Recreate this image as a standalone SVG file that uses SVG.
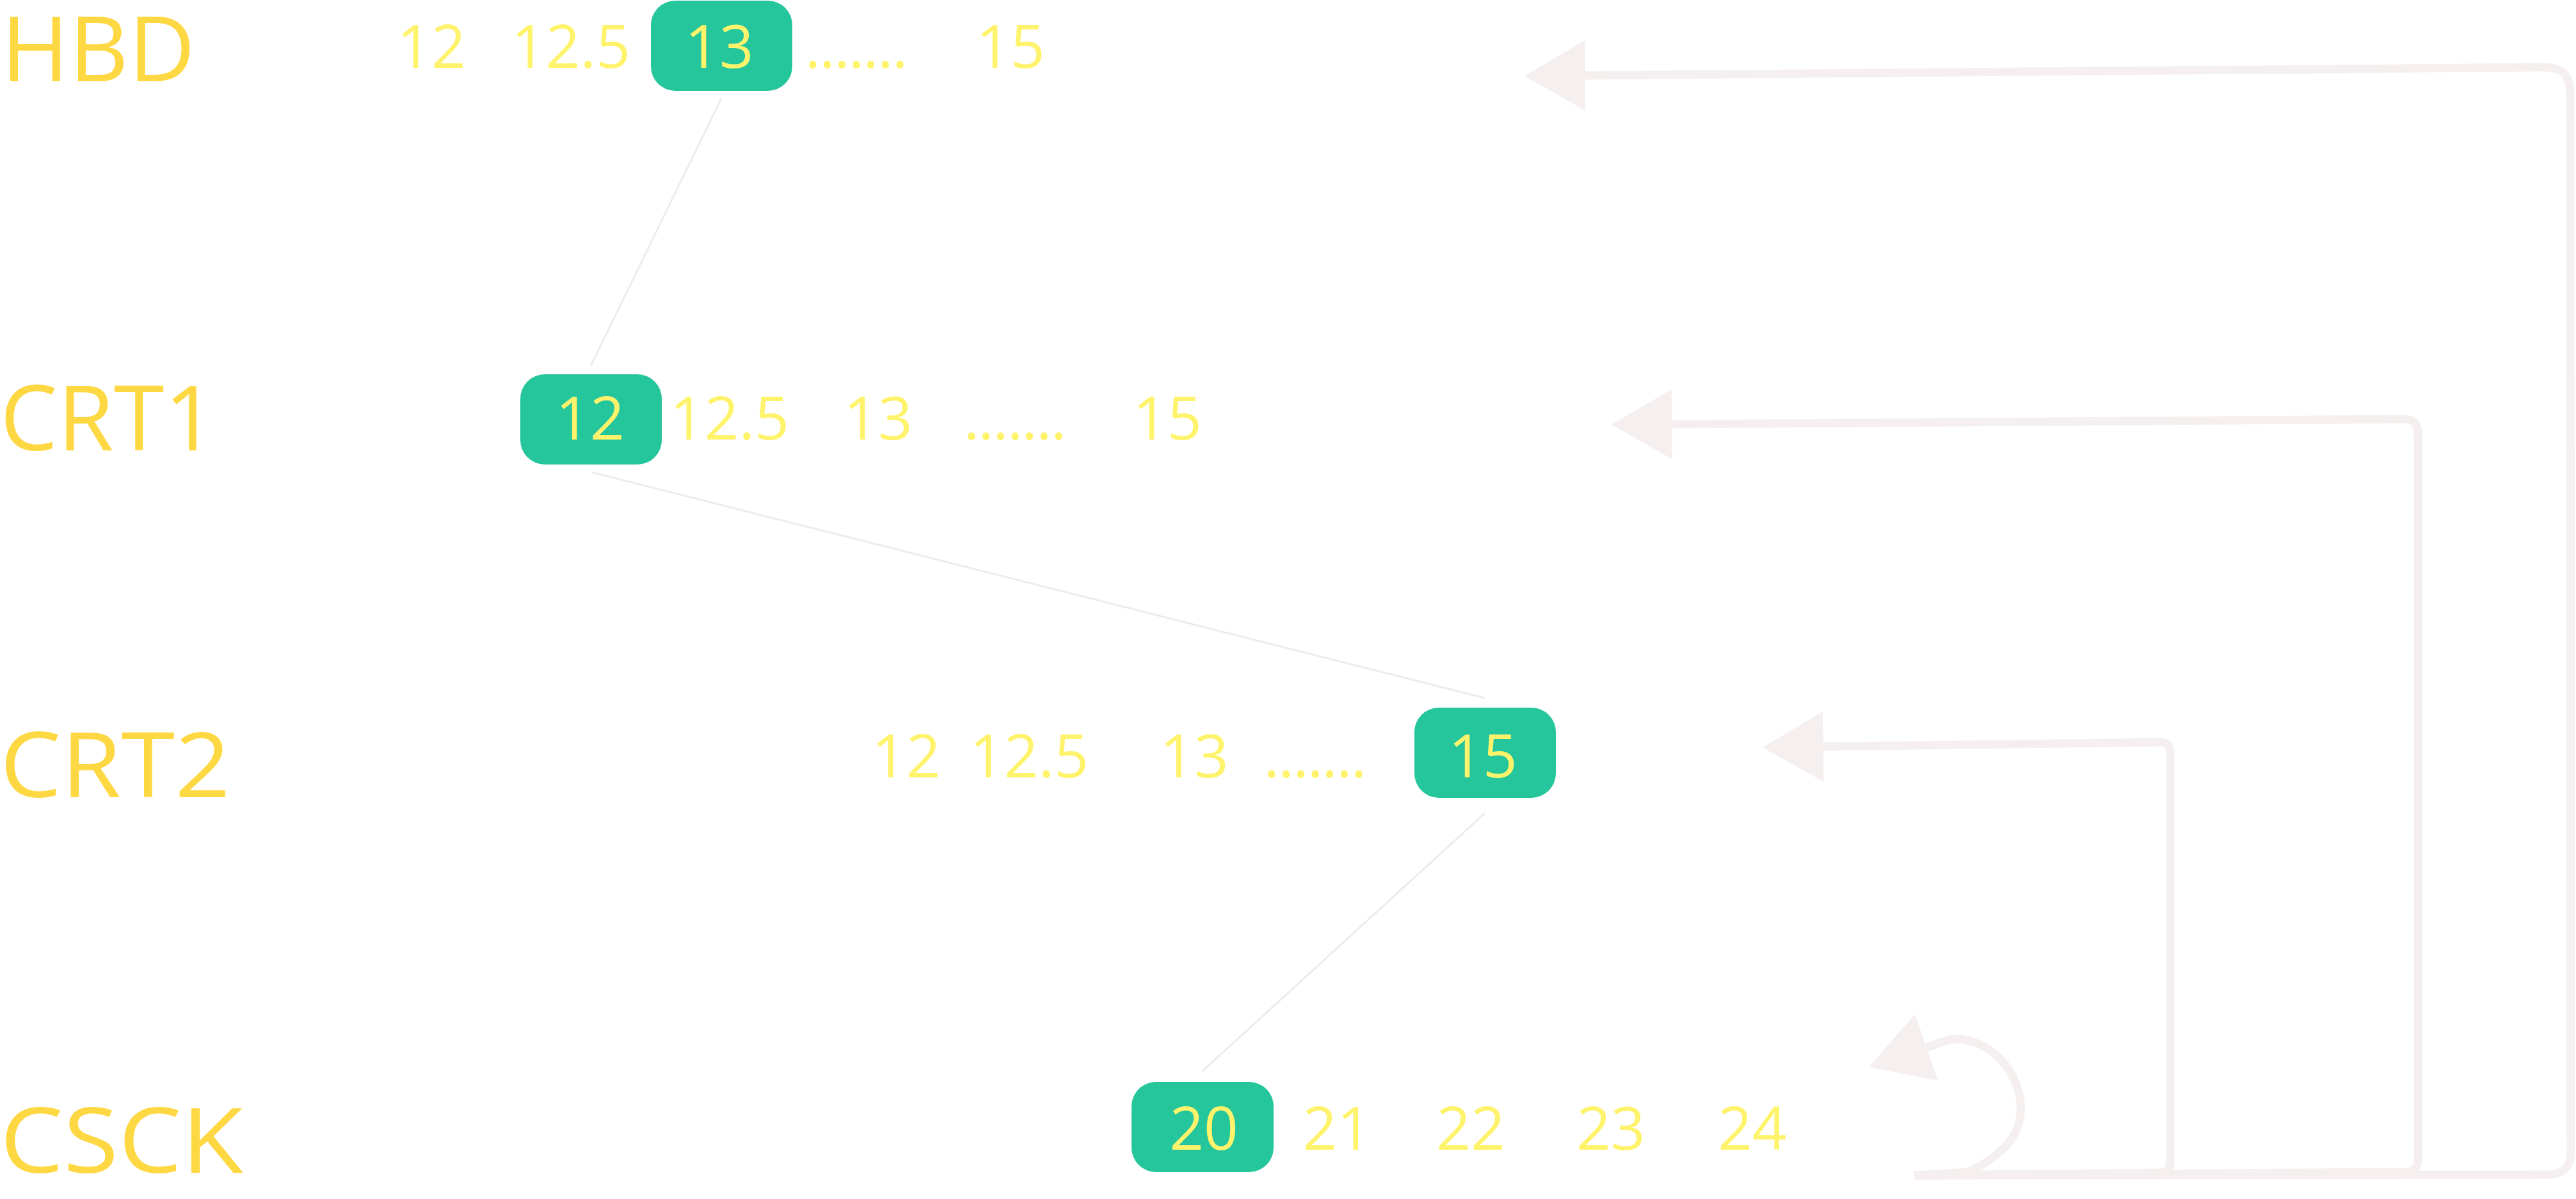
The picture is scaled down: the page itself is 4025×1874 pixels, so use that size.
<svg xmlns="http://www.w3.org/2000/svg" width="4025" height="1874" viewBox="0 0 4025 1874">
<style>
.lbl{font-family:"Open Sans","Liberation Sans",sans-serif;font-size:141px;fill:#FED843}
.num{font-family:"Open Sans","Liberation Sans",sans-serif;font-size:94px;fill:#FFF36B;text-anchor:middle}
.box{fill:#26C69D}
.thin{fill:none;stroke:#F0EBEB;stroke-width:3}
.big{fill:none;stroke:#F5EFEF;stroke-width:13;marker-end:url(#ah)}
</style>
<defs>
<marker id="ah" viewBox="0 0 95 110" refX="0" refY="55" markerWidth="95" markerHeight="110" markerUnits="userSpaceOnUse" orient="auto">
<path d="M0 0 L95 55 L0 110 Z" fill="#F5EFEF"/>
</marker>
</defs>
<rect width="4025" height="1874" fill="#FFFFFF"/>
<g id="connectors">
<path class="thin" d="M1127 154 L923 572"/>
<path class="thin" d="M924 738 L2320 1091"/>
<path class="thin" d="M2320 1271 L1879 1674"/>
<path class="big" d="M2991 1837 L3980 1836 Q4017 1836 4017 1800 L4016 145 Q4016 105 3976 105 L2477 118"/>
<path class="big" d="M2991 1837 L3758 1832 Q3778 1832 3778 1812 L3778 677 Q3778 655 3756 655 L2613 663"/>
<path class="big" d="M2991 1837 L3375 1833 Q3391 1833 3391 1817 L3391 1176 Q3391 1160 3375 1160 L2849 1167"/>
<path class="big" d="M2991 1837 L3075 1832 C3130 1806 3162 1772 3157 1722 C3150 1664 3100 1618 3045 1625 L3010 1637"/>
</g>
<g id="row-hbd">
<text class="lbl" x="2" y="127" textLength="303" lengthAdjust="spacingAndGlyphs">HBD</text>
<text class="num" x="674" y="106">12</text>
<text class="num" x="892" y="106">12.5</text>
<text class="num" x="1337" y="106" letter-spacing="-2">.......</text>
<text class="num" x="1579" y="106">15</text>
</g>
<g id="node-hbd-13">
<rect class="box" x="1017" y="1" width="221" height="141" rx="38"/>
<text class="num" x="1124" y="106">13</text>
</g>
<g id="row-crt1">
<text class="lbl" x="0" y="704" textLength="338" lengthAdjust="spacingAndGlyphs">CRT1</text>
<text class="num" x="1140" y="687">12.5</text>
<text class="num" x="1372" y="687">13</text>
<text class="num" x="1585" y="687" letter-spacing="-2">.......</text>
<text class="num" x="1824" y="687">15</text>
</g>
<g id="node-crt1-12">
<rect class="box" x="813" y="585" width="221" height="141" rx="38"/>
<text class="num" x="922" y="687">12</text>
</g>
<g id="row-crt2">
<text class="lbl" x="0" y="1246" textLength="360" lengthAdjust="spacingAndGlyphs">CRT2</text>
<text class="num" x="1416" y="1215">12</text>
<text class="num" x="1608" y="1215">12.5</text>
<text class="num" x="1866" y="1215">13</text>
<text class="num" x="2054" y="1215" letter-spacing="-2">.......</text>
</g>
<g id="node-crt2-15">
<rect class="box" x="2210" y="1106" width="221" height="141" rx="38"/>
<text class="num" x="2317" y="1215">15</text>
</g>
<g id="row-csck">
<text class="lbl" x="0" y="1833" textLength="380" lengthAdjust="spacingAndGlyphs">CSCK</text>
<text class="num" x="2089" y="1797">21</text>
<text class="num" x="2298" y="1797">22</text>
<text class="num" x="2517" y="1797">23</text>
<text class="num" x="2738" y="1797">24</text>
</g>
<g id="node-csck-20">
<rect class="box" x="1768" y="1691" width="222" height="141" rx="38"/>
<text class="num" x="1881" y="1797">20</text>
</g>
</svg>
